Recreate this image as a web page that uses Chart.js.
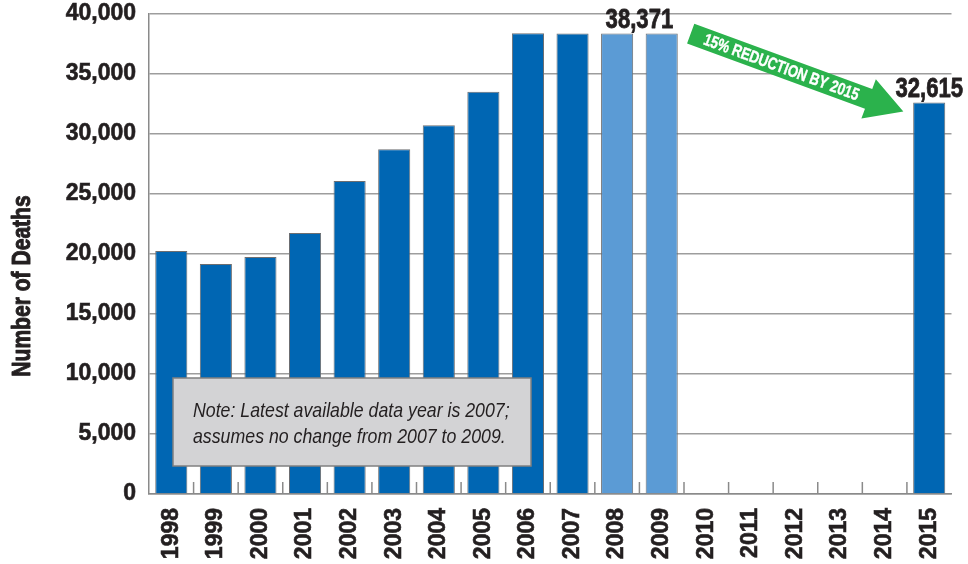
<!DOCTYPE html>
<html>
<head>
<meta charset="utf-8" />
<title>Number of Deaths</title>
<script src="https://cdn.jsdelivr.net/npm/chart.js@4.4.0/dist/chart.umd.min.js"></script>
<style>
  body { margin: 0; background: #fff; }
  #wrap { width: 968px; height: 564px; }
</style>
</head>
<body>
<div id="wrap"><canvas id="joonis"></canvas></div>
<script>
// data
const years = ['1998','1999','2000','2001','2002','2003','2004','2005','2006',
               '2007','2008','2009','2010','2011','2012','2013','2014','2015'];
const deaths = [20250, 19170, 19750, 21750, 26080, 28720, 30720, 33530, 38400,
                38371, 38371, 38371, null, null, null, null, null, 32615];
const assumedYears = ['2008', '2009'];          // no data yet, carried from 2007
const labelledYears = [['2008', '2009'], ['2015']];
const yTicks = [0, 5000, 10000, 15000, 20000, 25000, 30000, 35000, 40000];
const yTitle = 'Number of Deaths';
const arrowText = '15% REDUCTION BY 2015';
const noteLines = ['Note: Latest available data year is 2007;',
                   'assumes no change from 2007 to 2009.'];

const font = "'Liberation Sans', Arial, sans-serif";
const ink = '#231f20';

// text squeezed sideways, to look like a condensed face
function narrowText(ctx, text, px, py, sx, heavy) {
  ctx.save();
  ctx.translate(px, py);
  ctx.scale(sx, 1);
  if (heavy) {
    ctx.lineWidth = heavy;
    ctx.strokeStyle = ctx.fillStyle;
    ctx.lineJoin = 'round';
    ctx.strokeText(text, 0, 0);
  }
  ctx.fillText(text, 0, 0);
  ctx.restore();
}

const extras = {
  id: 'extras',
  afterDatasetsDraw(chart) {
    const { ctx, chartArea: a, scales: { x, y } } = chart;
    const step = (a.right - a.left) / years.length;
    ctx.save();

    // little ticks between years, pointing up from the base line
    ctx.strokeStyle = '#8a8a8a';
    ctx.lineWidth = 1.5;
    for (let i = 1; i < years.length; i++) {
      const px = a.left + i * step;
      ctx.beginPath();
      ctx.moveTo(px, a.bottom);
      ctx.lineTo(px, a.bottom - 12);
      ctx.stroke();
    }

    // value labels above bars
    ctx.fillStyle = ink;
    ctx.font = 'bold 28px ' + font;
    ctx.textAlign = 'center';
    ctx.textBaseline = 'alphabetic';
    labelledYears.forEach(g => {
      const xs = g.map(yr => x.getPixelForValue(years.indexOf(yr)));
      const v = deaths[years.indexOf(g[0])];
      narrowText(ctx, v.toLocaleString('en-US'), (Math.min(...xs) + Math.max(...xs)) / 2,
                 y.getPixelForValue(v) - 6, 0.79, 0.8);
    });

    // green arrow
    const i1 = years.indexOf('2009'), i2 = years.indexOf('2015');
    const sx = x.getPixelForValue(i1) + 0.65 * step, sy = y.getPixelForValue(deaths[i1]);
    const tx = x.getPixelForValue(i2) - 0.58 * step, ty = y.getPixelForValue(deaths[i2]) + 9;
    const ang = Math.atan2(ty - sy, tx - sx);
    const len = Math.hypot(tx - sx, ty - sy);
    const hw = 10.5, headLen = 37, headW = 21;
    ctx.save();
    ctx.translate(sx, sy);
    ctx.rotate(ang);
    ctx.fillStyle = '#2bb24c';
    ctx.beginPath();
    ctx.moveTo(0, -hw);
    ctx.lineTo(len - headLen, -hw);
    ctx.lineTo(len - headLen, -headW);
    ctx.lineTo(len, 0);
    ctx.lineTo(len - headLen, headW);
    ctx.lineTo(len - headLen, hw);
    ctx.lineTo(0, hw);
    ctx.closePath();
    ctx.fill();
    ctx.fillStyle = '#fff';
    ctx.font = 'bold 17px ' + font;
    ctx.textAlign = 'center';
    ctx.textBaseline = 'middle';
    narrowText(ctx, arrowText, (len - headLen) / 2 + 2, 1, 0.78, 0.4);
    ctx.restore();

    // note box
    const bx = a.left + 24, by = a.bottom - 116, bw = 358, bh = 88;
    ctx.fillStyle = '#d3d3d5';
    ctx.fillRect(bx, by, bw, bh);
    ctx.strokeStyle = '#808080';
    ctx.lineWidth = 1.5;
    ctx.strokeRect(bx, by, bw, bh);
    ctx.fillStyle = ink;
    ctx.font = 'italic 21px ' + font;
    ctx.textAlign = 'left';
    ctx.textBaseline = 'alphabetic';
    narrowText(ctx, noteLines[0], bx + 20, by + 39, 0.845);
    narrowText(ctx, noteLines[1], bx + 20, by + 65, 0.845);

    // y axis title
    ctx.save();
    ctx.translate(23, 286);
    ctx.rotate(-Math.PI / 2);
    ctx.font = 'bold 26px ' + font;
    ctx.textAlign = 'center';
    ctx.textBaseline = 'middle';
    narrowText(ctx, yTitle, 0, 0, 0.81, 1);
    ctx.restore();

    ctx.restore();
  }
};

new Chart(document.getElementById('joonis'), {
  type: 'bar',
  data: {
    labels: years,
    datasets: [{
      data: deaths,
      backgroundColor: years.map(yr => assumedYears.includes(yr) ? '#5b9bd5' : '#0066b3'),
      borderColor: '#6d6e71',
      borderWidth: 1,
      barPercentage: 0.72,
      categoryPercentage: 1
    }]
  },
  options: {
    responsive: true,
    maintainAspectRatio: false,
    animation: false,
    layout: { padding: { top: 14, right: 16.5, left: 0, bottom: 0 } },
    plugins: { legend: { display: false }, tooltip: { enabled: false } },
    scales: {
      x: {
        grid: { display: false },
        border: { display: true, color: '#8a8a8a', width: 1.5 },
        ticks: {
          color: ink, font: { family: font, size: 23, weight: 'bold' },
          textStrokeColor: ink, textStrokeWidth: 0.6,
          minRotation: 90, maxRotation: 90, autoSkip: false, padding: 6
        },
        afterFit(s) { s.height = 70; s.paddingLeft = 0; s.paddingRight = 0; }
      },
      y: {
        min: 0, max: 40000,
        afterBuildTicks(s) { s.ticks = yTicks.map(v => ({ value: v })); },
        grid: { color: '#9d9d9d', lineWidth: 1.5, drawTicks: false },
        border: { display: true, color: '#8a8a8a', width: 1.5 },
        ticks: {
          color: ink, font: { family: font, size: 23, weight: 'bold' }, padding: 13,
          textStrokeColor: ink, textStrokeWidth: 0.6,
          callback: v => v.toLocaleString('en-US')
        },
        afterFit(s) { s.width = 149; s.paddingTop = 0; s.paddingBottom = 0; }
      }
    }
  },
  plugins: [extras]
});
</script>
</body>
</html>
